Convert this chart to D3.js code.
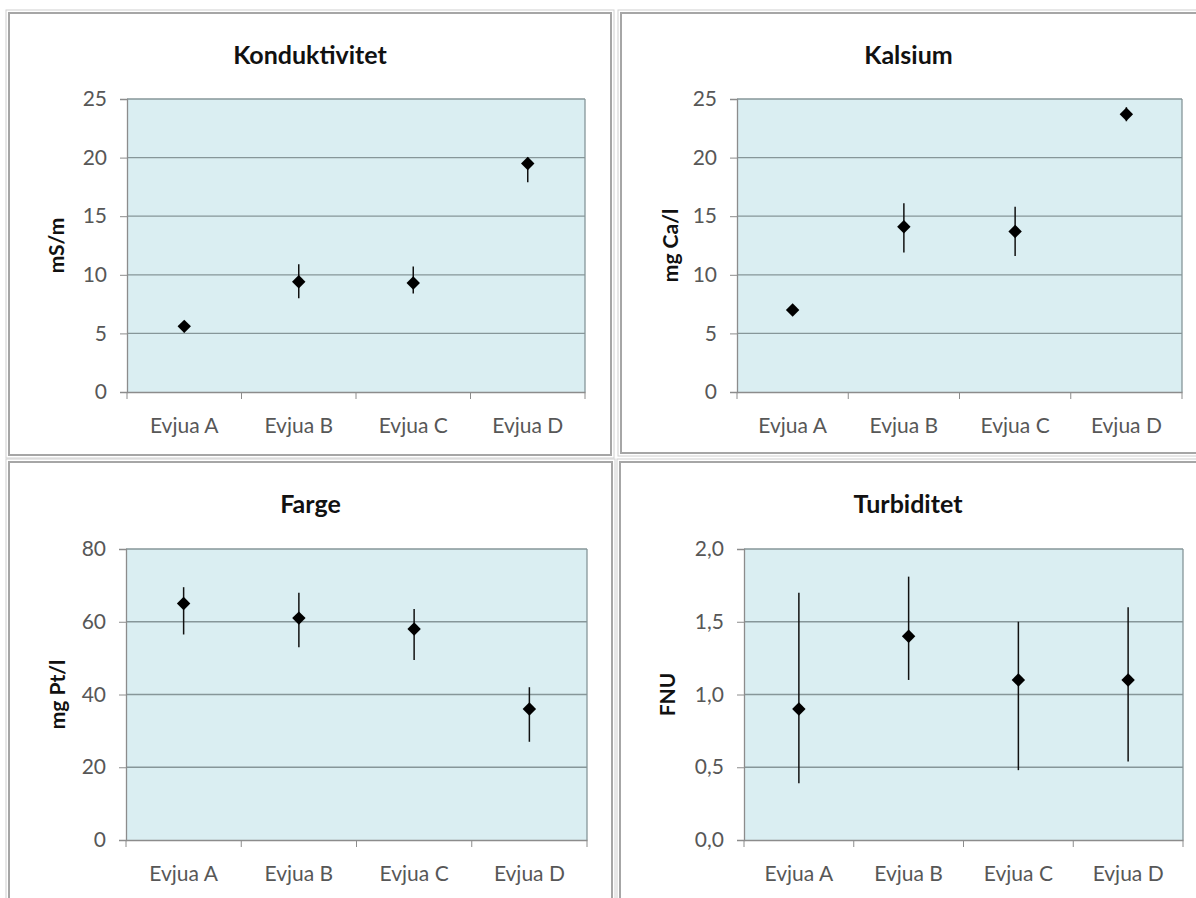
<!DOCTYPE html>
<html>
<head>
<meta charset="utf-8">
<script src="https://cdn.jsdelivr.net/npm/d3@7"></script>
<style>
  body { margin: 0; background: #fff; }
  text { font-family: Lato, "Open Sans", sans-serif; }
</style>
</head>
<body>
<div id="chart"></div>
<script>
// Categories shared by all four panels
var sites = ["Evjua A", "Evjua B", "Evjua C", "Evjua D"];

// Konduktivitet (mS/m): mean, min, max
var kondMean = [5.6, 9.4, 9.3, 19.5];
var kondLow  = [5.1, 8.0, 8.4, 17.9];
var kondHigh = [6.0, 10.9, 10.7, 20.0];
var kondTicks = [0, 5, 10, 15, 20, 25];

// Kalsium (mg Ca/l)
var kalMean = [7.0, 14.1, 13.7, 23.7];
var kalLow  = [6.7, 11.9, 11.6, 23.1];
var kalHigh = [7.3, 16.1, 15.8, 24.3];
var kalTicks = [0, 5, 10, 15, 20, 25];

// Farge (mg Pt/l)
var fargeMean = [65, 61, 58, 36];
var fargeLow  = [56.5, 53, 49.5, 27];
var fargeHigh = [69.5, 68, 63.5, 42];
var fargeTicks = [0, 20, 40, 60, 80];

// Turbiditet (FNU)
var turbMean = [0.9, 1.4, 1.1, 1.1];
var turbLow  = [0.39, 1.1, 0.48, 0.54];
var turbHigh = [1.7, 1.81, 1.5, 1.6];
var turbTicks = [0, 0.5, 1.0, 1.5, 2.0];

var W = 1196, H = 898;

var svg = d3.select("#chart")
    .append("svg")
    .attr("width", W)
    .attr("height", H);

// panel frames and plot rectangles
var panels = [
    {title: "Konduktivitet", unit: "mS/m", mean: kondMean, low: kondLow, high: kondHigh, ticks: kondTicks, fmt: d3.format("d"),
     box: [9, 13, 611, 455], plot: [127, 99, 585, 392], unitX: 57},
    {title: "Kalsium", unit: "mg Ca/l", mean: kalMean, low: kalLow, high: kalHigh, ticks: kalTicks, fmt: d3.format("d"),
     box: [621, 13, 1204, 453], plot: [737, 99, 1182, 392], unitX: 671},
    {title: "Farge", unit: "mg Pt/l", mean: fargeMean, low: fargeLow, high: fargeHigh, ticks: fargeTicks, fmt: d3.format("d"),
     box: [9, 462, 612, 906], plot: [126, 549, 587, 840], unitX: 58},
    {title: "Turbiditet", unit: "FNU", mean: turbMean, low: turbLow, high: turbHigh, ticks: turbTicks,
     fmt: function(v) { return d3.format(".1f")(v).replace(".", ","); },
     box: [620, 462, 1204, 906], plot: [744, 549, 1183, 840], unitX: 668}
];

function drawPanel(p) {
    var g = svg.append("g");
    var bx0 = p.box[0], by0 = p.box[1], bx1 = p.box[2], by1 = p.box[3];
    var px0 = p.plot[0], py0 = p.plot[1], px1 = p.plot[2], py1 = p.plot[3];

    // outer frame (double grey line like the pasted excel charts)
    g.append("rect")
        .attr("x", bx0).attr("y", by0)
        .attr("width", bx1 - bx0).attr("height", by1 - by0)
        .attr("fill", "#fff").attr("stroke", "#a6a6a6").attr("stroke-width", 2);
    g.append("rect")
        .attr("x", bx0 - 3).attr("y", by0 - 3)
        .attr("width", bx1 - bx0 + 6).attr("height", by1 - by0 + 6)
        .attr("fill", "none").attr("stroke", "#d0d0d0").attr("stroke-width", 1);

    var x = d3.scaleBand()
        .domain(sites)
        .range([px0, px1])
        .paddingInner(0).paddingOuter(0);

    var y = d3.scaleLinear()
        .domain([0, d3.max(p.ticks)])
        .range([py1, py0]);

    // plot area
    g.append("rect")
        .attr("x", px0).attr("y", py0)
        .attr("width", px1 - px0).attr("height", py1 - py0)
        .attr("fill", "#daeef2");

    // gridlines
    g.selectAll(".grid")
        .data(p.ticks.slice(1))
        .enter().append("line")
        .attr("x1", px0).attr("x2", px1)
        .attr("y1", d => y(d)).attr("y2", d => y(d))
        .attr("stroke", "#869699").attr("stroke-width", 1.3);

    // right border of plot
    g.append("line")
        .attr("x1", px1).attr("x2", px1).attr("y1", py0).attr("y2", py1)
        .attr("stroke", "#869699").attr("stroke-width", 1.3);

    // y axis
    var yAxis = d3.axisLeft(y)
        .tickValues(p.ticks)
        .tickFormat(p.fmt)
        .tickSize(7)
        .tickPadding(13);
    var ya = g.append("g")
        .attr("transform", "translate(" + px0 + ",0)")
        .call(yAxis);
    ya.select(".domain").attr("stroke", "#8c8c8c").attr("stroke-width", 1.3);
    ya.selectAll(".tick line").attr("stroke", "#8c8c8c");
    ya.selectAll("text").attr("fill", "#575757").style("font-size", "21px");

    // x axis with ticks between the categories
    var xAxis = d3.axisBottom(x).tickSize(0).tickPadding(26);
    var xa = g.append("g")
        .attr("transform", "translate(0," + py1 + ")")
        .call(xAxis);
    xa.select(".domain").attr("stroke", "#8c8c8c").attr("stroke-width", 1.3);
    xa.selectAll("text").attr("fill", "#575757").style("font-size", "21px");
    g.selectAll(".xtick")
        .data(sites.concat(["end"]))
        .enter().append("line")
        .attr("x1", (d, i) => i < sites.length ? x(d) : px1)
        .attr("x2", (d, i) => i < sites.length ? x(d) : px1)
        .attr("y1", py1).attr("y2", py1 + 7)
        .attr("stroke", "#8c8c8c");

    // title
    g.append("text")
        .attr("x", (bx0 + bx1) / 2 - (bx1 > W ? 4 : 0))
        .attr("y", by0 + 51)
        .attr("text-anchor", "middle")
        .style("font-size", "25px").style("font-weight", "bold")
        .attr("fill", "#111")
        .text(p.title);

    // unit label
    g.append("text")
        .attr("transform", "translate(" + p.unitX + "," + ((py0 + py1) / 2) + ") rotate(-90)")
        .attr("text-anchor", "middle")
        .attr("dy", "0.35em")
        .style("font-size", "21px").style("font-weight", "bold")
        .attr("fill", "#111")
        .text(p.unit);

    var cx = d => x(d) + x.bandwidth() / 2;

    // min-max bars
    g.selectAll(".err")
        .data(sites)
        .enter().append("line")
        .attr("x1", cx).attr("x2", cx)
        .attr("y1", (d, i) => y(p.low[i]))
        .attr("y2", (d, i) => y(p.high[i]))
        .attr("stroke", "#111").attr("stroke-width", 1.5);

    // mean markers (diamonds)
    g.selectAll(".pt")
        .data(sites)
        .enter().append("path")
        .attr("d", d3.symbol().type(d3.symbolDiamond2).size(115))
        .attr("transform", (d, i) => "translate(" + cx(d) + "," + y(p.mean[i]) + ")")
        .attr("fill", "#000");
}

panels.forEach(drawPanel);
</script>
</body>
</html>
